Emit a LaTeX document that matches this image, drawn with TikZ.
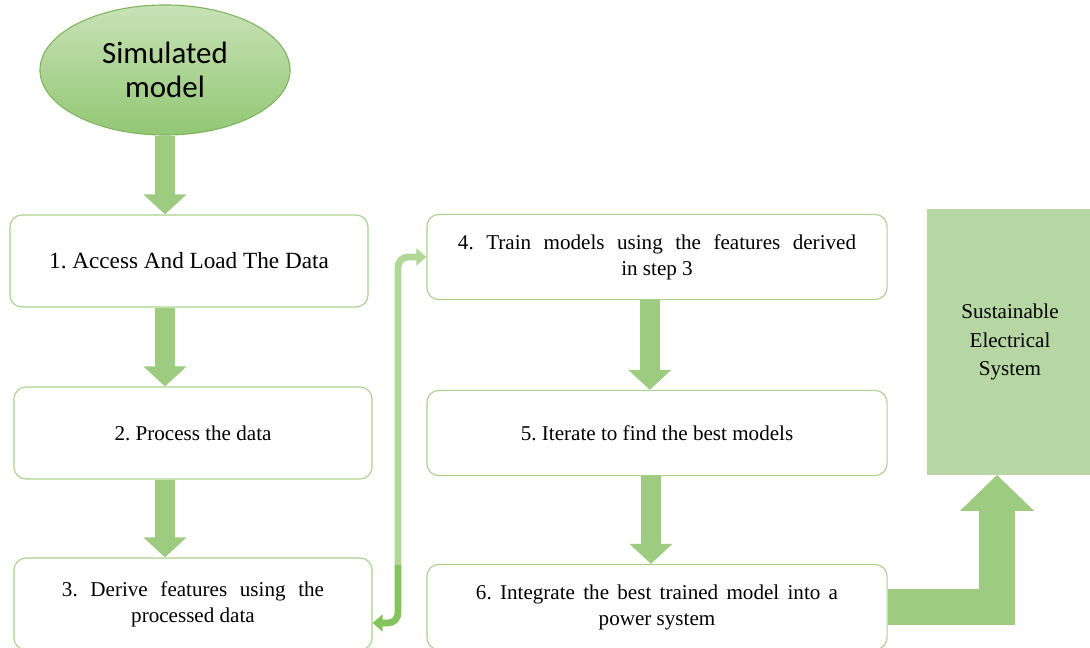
\documentclass[tikz,border=0pt]{standalone}
\usepackage{xcolor}
\usepackage{fontspec}
\setmainfont{Liberation Serif}
\newfontfamily\ovalfont{Carlito}
\usepackage{tikz}
\usetikzlibrary{calc,shapes,positioning,arrows.meta}
\frenchspacing
\definecolor{edgeColor}{RGB}{169, 209, 142}
\definecolor{arrowColor}{RGB}{157, 203, 128}
\definecolor{linkColor}{RGB}{176, 214, 152}
\definecolor{linkDark}{RGB}{132, 195, 94}
\definecolor{ovalTop}{RGB}{200, 226, 182}
\definecolor{ovalBottom}{RGB}{146, 199, 116}
\definecolor{ovalEdge}{RGB}{128, 182, 98}
\definecolor{systemColor}{RGB}{182, 215, 163}
\tikzset{
  stepbox/.style={draw=edgeColor, line width=0.8pt, rounded corners=0.3cm, fill=white,
    align=center, font=\fontsize{15}{18.5}\selectfont, minimum width=8.95cm, minimum height=2.3cm},
  widebox/.style={stepbox, minimum width=11.5cm, minimum height=2.13cm},
  blockarrow/.style={arrowColor, line width=0.5cm, -{Triangle[length=0.5cm,width=1.05cm]}},
  bigarrow/.style={arrowColor, line width=0.9cm, line join=miter, -{Triangle[length=0.9cm,width=1.8cm]}},
  link/.style={linkColor, line width=0.17cm, rounded corners=0.25cm, -{Triangle[length=0.25cm,width=0.42cm]}}
}
\begin{document}
\begin{tikzpicture}[x=0.025cm, y=-0.025cm]
  \useasboundingbox (0,0) rectangle (1090,648);

  % Start oval
  \node[ellipse, draw=ovalEdge, line width=0.8pt, top color=ovalTop, bottom color=ovalBottom,
        minimum width=6.25cm, minimum height=3.25cm, align=center,
        font=\ovalfont\fontsize{22}{24}\selectfont] (sim) at (165,70) {Simulated\\model};

  % Left column
  \node[stepbox, font=\fontsize{16.5}{20}\selectfont] (load) at (189,261) {1. Access And Load The Data};
  \node[stepbox] (proc) at (193,433) {2. Process the data};
  \node[stepbox] (feat) at (193,604) {\makebox[6.55cm][s]{3. Derive features using the}\\processed data};

  % Right column
  \node[widebox] (train) at (657,257) {\makebox[9.95cm][s]{4. Train models using the features derived}\\in step 3};
  \node[widebox] (iter) at (657,433) {5. Iterate to find the best models};
  \node[widebox] (integ) at (657,607) {\makebox[9.05cm][s]{6. Integrate the best trained model into a}\\power system};

  % Target block
  \node[fill=systemColor, minimum width=4.15cm, minimum height=6.63cm, align=center,
        font=\fontsize{15}{20}\selectfont] (sustain) at (1010,342) {Sustainable\\Electrical\\System};

  % Block arrows
  \draw[blockarrow] (sim.south) -- (sim.south |- load.north);
  \draw[blockarrow] (load.south -| sim.south) -- (proc.north -| sim.south);
  \draw[blockarrow] (proc.south -| sim.south) -- (feat.north -| sim.south);
  \draw[blockarrow] ([xshift=-0.18cm]train.south) -- ([xshift=-0.18cm]iter.north);
  \draw[blockarrow] ([xshift=-0.15cm]iter.south) -- ([xshift=-0.15cm]integ.north);
  \draw[bigarrow] (integ.east) -| ($(sustain.south)+(-13,0)$);

  % Link from step 3 to step 4
  \coordinate (split) at (398,565);
  \draw[link] (split) |- (train.west);
  \draw[link, linkDark] (split) |- ($(feat.east)+(0,19)$);
\end{tikzpicture}
\end{document}
